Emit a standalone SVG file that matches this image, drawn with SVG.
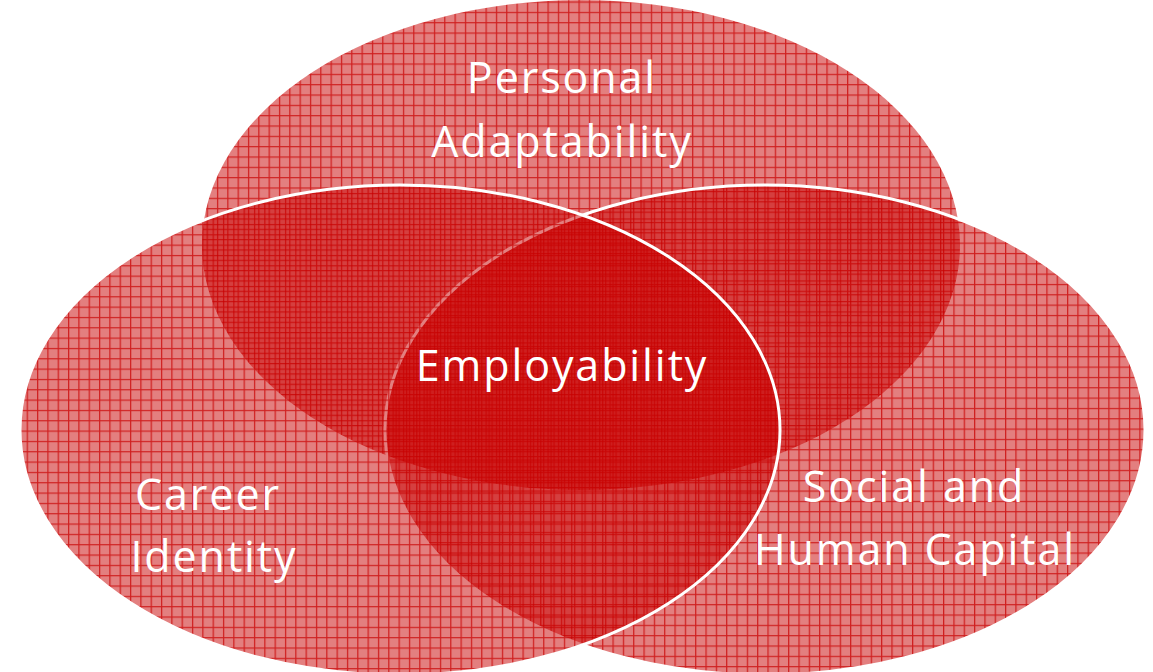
<svg xmlns="http://www.w3.org/2000/svg" width="1153" height="672" viewBox="0 0 1153 672">
  <defs>
    <pattern id="gridA" patternUnits="userSpaceOnUse" width="10.33" height="10.33" x="0" y="1.5">
      <rect width="10.33" height="10.33" fill="#c80000" fill-opacity="0.5"/>
      <path d="M0 0.6H10.33M0.6 0V10.33" stroke="#c80000" stroke-width="1.3" stroke-opacity="0.75" fill="none"/>
    </pattern>
    <pattern id="gridB" patternUnits="userSpaceOnUse" width="10.33" height="10.33" x="3" y="5">
      <rect width="10.33" height="10.33" fill="#c80000" fill-opacity="0.5"/>
      <path d="M0 0.6H10.33M0.6 0V10.33" stroke="#c80000" stroke-width="1.3" stroke-opacity="0.75" fill="none"/>
    </pattern>
    <pattern id="gridC" patternUnits="userSpaceOnUse" width="10.33" height="10.33" x="6" y="7">
      <rect width="10.33" height="10.33" fill="#c80000" fill-opacity="0.5"/>
      <path d="M0 0.6H10.33M0.6 0V10.33" stroke="#c80000" stroke-width="1.3" stroke-opacity="0.75" fill="none"/>
    </pattern>
  </defs>
  <style>
    .lbl { font-family: "Open Sans", "Noto Sans", "Liberation Sans", sans-serif; font-size: 43px; letter-spacing: 1.9px; fill: #ffffff; text-anchor: middle; }
  </style>
  <rect width="1153" height="672" fill="#ffffff"/>
  <g id="node-personal-adaptability">
    <ellipse cx="581" cy="245" rx="379" ry="245" fill="url(#gridA)"/>
  </g>
  <g id="node-social-human-capital">
    <ellipse cx="765" cy="430" rx="380" ry="245" fill="url(#gridB)" stroke="#ffffff" stroke-width="3"/>
  </g>
  <g id="node-career-identity">
    <ellipse cx="400" cy="430" rx="380" ry="245" fill="url(#gridC)" stroke="#ffffff" stroke-width="3"/>
  </g>
  <g id="connectors"></g>
  <g id="labels">
    <text class="lbl" x="562" y="93">Personal</text>
    <text class="lbl" x="562" y="157">Adaptability</text>
    <text class="lbl" x="562" y="381">Employability</text>
    <text class="lbl" x="208" y="510">Career</text>
    <text class="lbl" x="214" y="572">Identity</text>
    <text class="lbl" x="914" y="502">Social and</text>
    <text class="lbl" x="915" y="565">Human Capital</text>
  </g>
</svg>
